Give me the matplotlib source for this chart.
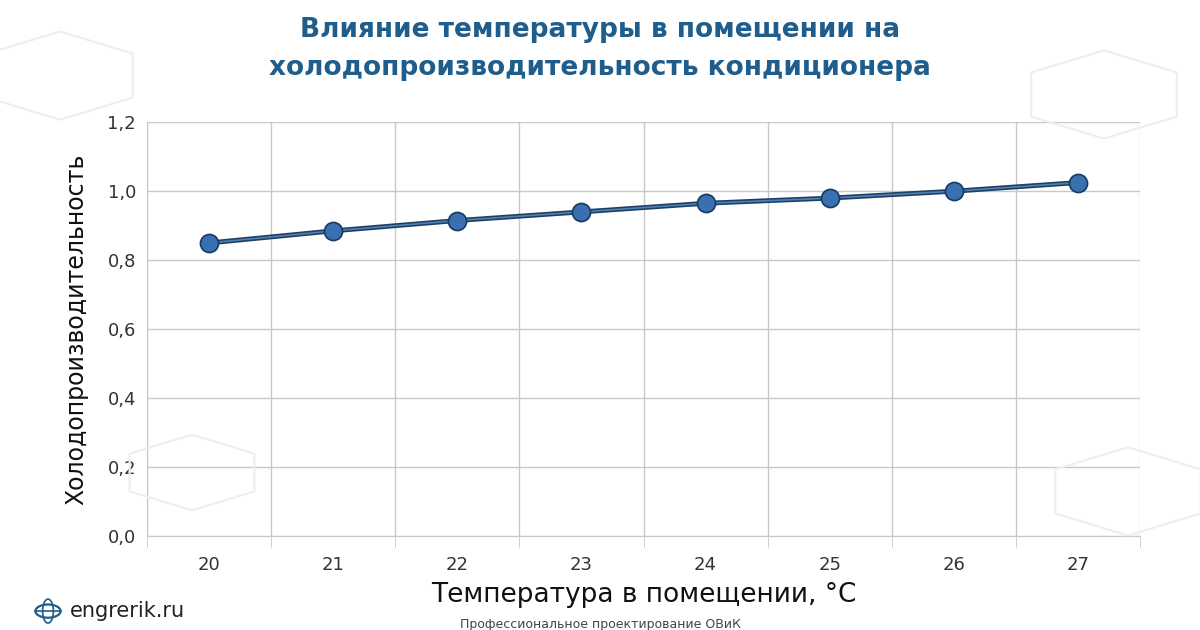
import matplotlib.pyplot as plt
from matplotlib.patches import RegularPolygon, Circle, Ellipse

temps = ['20', '21', '22', '23', '24', '25', '26', '27']
capacity = [0.85, 0.885, 0.915, 0.94, 0.965, 0.98, 1.0, 1.025]
y_ticks = [0.0, 0.2, 0.4, 0.6, 0.8, 1.0, 1.2]

fig = plt.figure(figsize=(12, 6.3), dpi=100)
fig.patch.set_facecolor('white')

# faint decorative hexagons (outlines only)
for (cx, cy, r) in [(0.05, 0.88, 0.07), (0.92, 0.85, 0.07), (0.16, 0.25, 0.06), (0.94, 0.22, 0.07)]:
    fig.patches.append(RegularPolygon((cx, cy), 6, radius=r, transform=fig.transFigure,
                                      facecolor='none', edgecolor='#eceef1', lw=1.5, zorder=0))

ax = fig.add_axes([0.1225, 0.149, 0.8275, 0.657])
ax.set_facecolor('none')
x = range(len(temps))
ax.plot(x, capacity, color='#1d3f66', lw=3.5, zorder=3)
ax.plot(x, capacity, color='#4f7fb0', lw=1.2, zorder=4)
ax.scatter(x, capacity, s=170, color='#3a70b0', edgecolor='#173a60', lw=1.2, zorder=5)

ax.set_xlim(-0.5, len(temps) - 0.5)
ax.set_ylim(0, 1.2)
ax.set_yticks(y_ticks)
ax.set_yticklabels([f'{v:.1f}'.replace('.', ',') for v in y_ticks])
ax.set_xticks(list(x))
ax.set_xticklabels(temps)
ax.set_xticks([i - 0.5 for i in range(len(temps) + 1)], minor=True)
ax.grid(True, which='minor', axis='x', color='#c8c8c8', lw=1)
ax.grid(True, which='major', axis='y', color='#c8c8c8', lw=1)
ax.tick_params(axis='x', which='major', length=0, pad=14)
ax.tick_params(axis='x', which='minor', length=8, color='#c8c8c8')
ax.tick_params(axis='y', length=0, pad=8)
ax.tick_params(labelsize=13, labelcolor='#333333')
for s in ax.spines.values():
    s.set_color('#c8c8c8')
ax.spines['top'].set_visible(False)
ax.spines['right'].set_visible(False)

ax.set_xlabel('Температура в помещении, °C', fontsize=19, color='#111111', labelpad=6)
ax.set_ylabel('Холодопроизводительность', fontsize=17, color='#111111', labelpad=14)

fig.text(0.5, 0.952, 'Влияние температуры в помещении на', ha='center', va='center',
         fontsize=19, fontweight='bold', color='#1f5d8c')
fig.text(0.5, 0.892, 'холодопроизводительность кондиционера', ha='center', va='center',
         fontsize=19, fontweight='bold', color='#1f5d8c')

# globe icon drawn as shapes
gx, gy = 0.04, 0.03
fig.patches.append(Circle((gx, gy), 0.0105 * 630 / 1200 * 1.9, transform=fig.transFigure,
                          facecolor='none', edgecolor='#1f5d8c', lw=1.6))
fig.patches.append(Ellipse((gx, gy), 0.009, 0.038, transform=fig.transFigure,
                           facecolor='none', edgecolor='#1f5d8c', lw=1.2))
fig.lines.append(plt.Line2D([gx - 0.0105, gx + 0.0105], [gy, gy], transform=fig.transFigure,
                            color='#1f5d8c', lw=1.2))
fig.text(0.058, 0.03, 'engrerik.ru', fontsize=15, color='#222222', va='center')
fig.text(0.5, 0.008, 'Профессиональное проектирование ОВиК', fontsize=9, color='#444444',
         ha='center', va='center')

fig.savefig('out.png', dpi=100)
